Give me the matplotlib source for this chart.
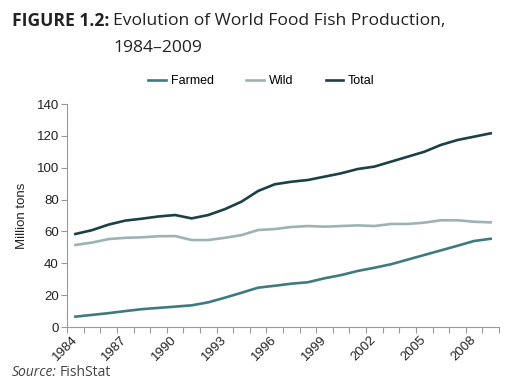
import numpy as np
import matplotlib.pyplot as plt

years = list(range(1984, 2010))
farmed = [6.5, 7.6, 8.7, 10.0, 11.2, 12.0, 12.8, 13.6, 15.5, 18.4, 21.5, 24.7,
          25.9, 27.2, 28.1, 30.6, 32.6, 35.2, 37.2, 39.4, 42.3, 45.2, 48.1, 51.0, 54.0, 55.4]
wild = [51.5, 53.0, 55.2, 56.0, 56.3, 57.0, 57.1, 54.6, 54.6, 56.0, 57.7, 60.9,
        61.5, 62.8, 63.4, 63.0, 63.4, 63.8, 63.4, 64.7, 64.7, 65.5, 67.0, 67.0, 66.1, 65.7]
total = [58.4, 60.8, 64.3, 66.8, 68.0, 69.4, 70.3, 68.2, 70.3, 74.0, 78.7, 85.4,
         89.6, 91.2, 92.3, 94.4, 96.5, 99.2, 100.7, 103.8, 106.9, 110.0, 114.3, 117.4, 119.5, 121.6]
series_names = ['Farmed', 'Wild', 'Total']
series_colors = ['#3f7a80', '#9db3b3', '#1c3f48']

plt.rcParams['font.family'] = ['Liberation Sans', 'DejaVu Sans']
title_font = ['Open Sans', 'DejaVu Sans']

fig = plt.figure(figsize=(5.16, 3.81), dpi=100)
ax = fig.add_axes([0.130, 0.1417, 0.837, 0.5853])

x = np.arange(len(years))
for vals, name, col in zip([farmed, wild, total], series_names, series_colors):
    ax.plot(x, vals, color=col, lw=1.9, label=name)

ax.set_xlim(-0.5, len(years) - 0.5)
ax.set_ylim(0, 140)
ax.set_yticks(range(0, 141, 20))
ax.tick_params(axis='y', labelsize=9.5, length=4, color='#999999', pad=2, labelcolor='#222222')

# category axis: ticks between categories, labels every 3 years
ax.set_xticks(np.arange(-0.5, len(years), 1.0))
ax.set_xticklabels([])
ax.tick_params(axis='x', which='major', length=4, color='#999999')
lab_pos = x[::3]
ax.set_xticks(lab_pos, minor=True)
ax.set_xticklabels([str(years[i]) for i in lab_pos], minor=True, rotation=45,
                   ha='right', va='center', rotation_mode='anchor', fontsize=9.5, color='#222222')
ax.tick_params(axis='x', which='minor', length=0, pad=8)

for s in ['top', 'right']:
    ax.spines[s].set_visible(False)
for s in ['left', 'bottom']:
    ax.spines[s].set_color('#999999')
    ax.spines[s].set_linewidth(0.8)

ax.set_ylabel('Million tons', fontsize=9.5, color='#222222', labelpad=6)

ax.legend(loc='center left', bbox_to_anchor=(0.1875, 1.103), ncol=3, frameon=False,
          fontsize=9, handlelength=1.4, handletextpad=0.4, columnspacing=2.6,
          borderaxespad=0, borderpad=0)

fig.text(0.023, 0.945, 'FIGURE 1.2:', fontsize=12.6, fontweight='bold',
         family=title_font, color='#222222', va='center')
fig.text(0.219, 0.945, 'Evolution of World Food Fish Production,', fontsize=12.6,
         family=title_font, color='#222222', va='center')
fig.text(0.219, 0.875, '1984\u20132009', fontsize=12.6,
         family=title_font, color='#222222', va='center')
fig.text(0.023, 0.012, 'Source:', fontsize=10, style='italic',
         family=title_font, color='#444444', va='baseline')
fig.text(0.115, 0.012, 'FishStat', fontsize=10,
         family=title_font, color='#444444', va='baseline')

fig.savefig('out.png', dpi=100)
